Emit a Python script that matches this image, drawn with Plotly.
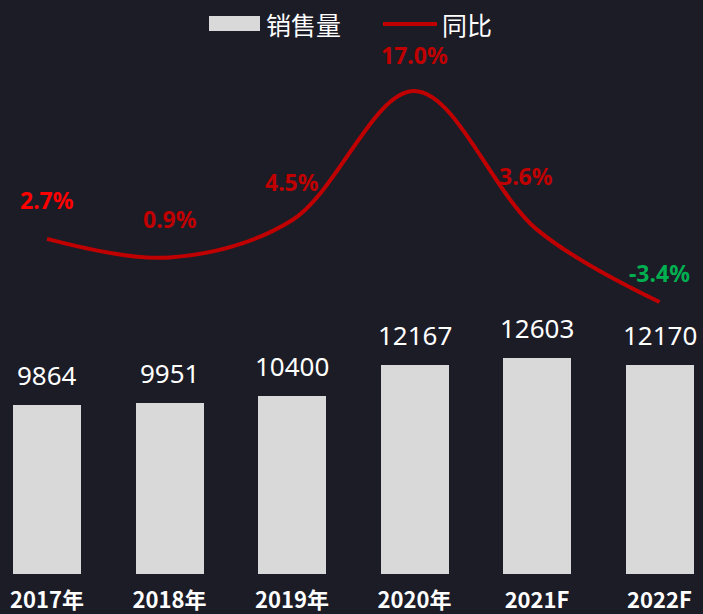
import plotly.graph_objects as go

# data
YEARS = ["2017年", "2018年", "2019年", "2020年", "2021F", "2022F"]
SALES = [9864, 9951, 10400, 12167, 12603, 12170]
YOY = [2.7, 0.9, 4.5, 17.0, 3.6, -3.4]

BG = "#1c1c27"
BAR_COLOR = "#d9d9d9"
LINE_COLOR = "#c00000"

# label colours / offsets per point
YOY_COLORS = ["#ff0000", "#c00000", "#c00000", "#c00000", "#c00000", "#00b050"]
YOY_SHIFT = [(0, 39), (0, 39), (0, 38), (0, 36), (-11, 54), (0, 29)]

PLOT_H = 574  # plot area height in px (figure height minus bottom margin)

x = list(range(len(YEARS)))

fig = go.Figure()

fig.add_trace(go.Bar(
    x=x, y=SALES, name="销售量", showlegend=False,
    marker=dict(color=BAR_COLOR, line=dict(width=0)),
    width=0.555,
))

fig.add_trace(go.Scatter(
    x=x, y=YOY, name="同比", yaxis="y2", showlegend=False,
    mode="lines", line=dict(color=LINE_COLOR, width=4, shape="spline", smoothing=1),
))

for i, v in enumerate(SALES):
    fig.add_annotation(
        x=i, y=v, text=str(v), showarrow=False, yshift=30,
        yanchor="middle", font=dict(family="Noto Sans", size=26, color="white"),
    )

for i, v in enumerate(YOY):
    dx, dy = YOY_SHIFT[i]
    fig.add_annotation(
        x=i, y=v, yref="y2", text=f"{v:.1f}%", showarrow=False,
        xshift=dx, yshift=dy, yanchor="middle",
        font=dict(family="Noto Sans", size=23, color=YOY_COLORS[i], weight="bold"),
    )


# legend drawn by hand so the swatches get the wide shape of the original
def px(xp):
    return xp / 703


def py(yp):
    return 1 - yp / PLOT_H


legend_font = dict(family="Noto Sans CJK SC", size=25, color="white")
fig.add_shape(type="rect", xref="paper", yref="paper",
              x0=px(209), x1=px(260), y0=py(31), y1=py(16),
              fillcolor=BAR_COLOR, line=dict(width=0))
fig.add_annotation(xref="paper", yref="paper", x=px(264), y=py(24), text="销售量",
                   showarrow=False, xanchor="left", yanchor="middle", font=legend_font)
fig.add_shape(type="line", xref="paper", yref="paper",
              x0=px(383), x1=px(437), y0=py(24), y1=py(24),
              line=dict(color=LINE_COLOR, width=4))
fig.add_annotation(xref="paper", yref="paper", x=px(440), y=py(24), text="同比",
                   showarrow=False, xanchor="left", yanchor="middle", font=legend_font)

fig.update_layout(
    width=703, height=614,
    margin=dict(l=0, r=0, t=0, b=614 - PLOT_H),
    paper_bgcolor=BG, plot_bgcolor=BG,
    showlegend=False,
    xaxis=dict(
        range=[-0.384, 5.355], tickvals=x, ticktext=YEARS,
        showgrid=False, zeroline=False, showline=False, ticks="",
        ticklabelstandoff=11,
        tickfont=dict(family="Noto Sans CJK SC", size=22, color="white", weight="bold"),
    ),
    yaxis=dict(range=[0, 33489], visible=False, showgrid=False),
    yaxis2=dict(range=[-29.7, 25.8], overlaying="y", visible=False, showgrid=False),
    bargap=0,
)

fig.write_html("out.html", config={"displayModeBar": False},
               post_script="document.body.style.margin='0';")
